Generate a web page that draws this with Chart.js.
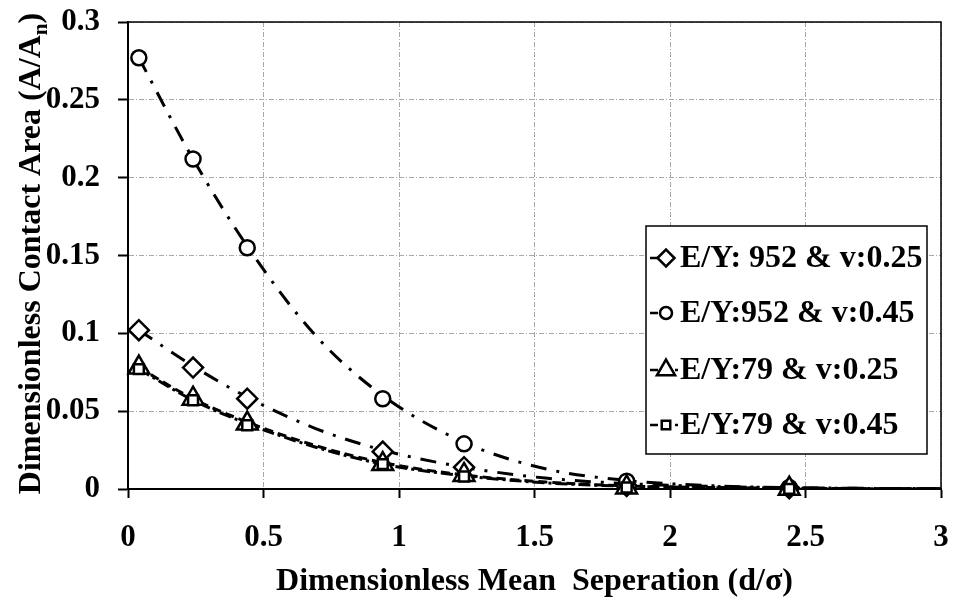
<!DOCTYPE html>
<html>
<head>
<meta charset="utf-8">
<script src="https://cdn.jsdelivr.net/npm/chart.js@4.4.1/dist/chart.umd.min.js"></script>
<style>
  html, body { margin: 0; padding: 0; background: #fff; }
  #wrap { width: 957px; height: 603px; }
</style>
</head>
<body>
<div id="wrap"><canvas id="contactChart" width="957" height="603"></canvas></div>
<script>
//========================
// Data
//========================
const sepX = [0.04, 0.24, 0.44, 0.94, 1.24, 1.84, 2.44];

const area952v025 = [0.102, 0.078, 0.058, 0.024, 0.014, 0.002, 0.0005];
const area952v045 = [0.277, 0.212, 0.155, 0.058, 0.029, 0.005, 0.001];
const area79v025  = [0.078, 0.058, 0.042, 0.016, 0.009, 0.001, 0.0002];
const area79v045  = [0.077, 0.057, 0.041, 0.016, 0.008, 0.001, 0.0001];

// trend curves
const trendX = [0.04, 0.24, 0.44, 0.69, 0.94, 1.24, 1.54, 1.84, 2.14, 2.44, 2.72, 3.0];
const trend952v025 = [0.102, 0.079, 0.059, 0.039, 0.025, 0.014, 0.007, 0.0035, 0.0017, 0.0008, 0.0004, 0.0002];
const trend952v045 = [0.277, 0.212, 0.156, 0.099, 0.060, 0.030, 0.013, 0.0055, 0.0022, 0.0009, 0.0004, 0.0002];
const trend79v025  = [0.078, 0.058, 0.043, 0.028, 0.017, 0.009, 0.0045, 0.002, 0.001, 0.0005, 0.0002, 0.0001];
const trend79v045  = [0.077, 0.057, 0.042, 0.027, 0.016, 0.0085, 0.004, 0.0018, 0.0009, 0.0004, 0.0002, 0.0001];

const seriesLabels = ['E/Y: 952 & v:0.25', 'E/Y:952 & v:0.45', 'E/Y:79 & v:0.25', 'E/Y:79 & v:0.45'];
const xTitle = 'Dimensionless Mean  Seperation (d/\u03c3)';
const yTitleMain = 'Dimensionless Contact Area (A/A';
const yTitleSub = 'n';

const serif = "'Liberation Serif', 'Times New Roman', Times, serif";

function toPts(xs, ys) {
  return xs.map((x, i) => ({ x: x, y: ys[i] }));
}

function tickText(value) {
  return String(Number(value.toFixed(2)));
}

//========================
// Styles per series
//========================
const markerStyles = [
  { pointStyle: 'rectRot',  radius: 10,  legendRadius: 8.5 },
  { pointStyle: 'circle',   radius: 7.5, legendRadius: 6 },
  { pointStyle: 'triangle', radius: 12,  legendRadius: 10.5 },
  { pointStyle: 'rect',     radius: 7,   legendRadius: 6 }
];
const trendDash = [[16, 10, 3, 10], [16, 10, 3, 10], [9, 5], [12, 4, 3, 4]];

function markerSet(label, ys, idx, order) {
  return {
    label: label,
    data: toPts(sepX, ys),
    showLine: false,
    pointStyle: markerStyles[idx].pointStyle,
    pointRadius: markerStyles[idx].radius,
    pointBackgroundColor: '#fff',
    pointBorderColor: '#000',
    pointBorderWidth: 2.5,
    clip: false,
    order: order
  };
}

function trendSet(ys, idx, order) {
  return {
    label: 'trend ' + seriesLabels[idx],
    data: toPts(trendX, ys),
    showLine: true,
    borderColor: '#000',
    borderWidth: 3,
    borderDash: trendDash[idx],
    borderCapStyle: 'butt',
    cubicInterpolationMode: 'monotone',
    pointRadius: 0,
    order: order
  };
}

//========================
// Plugins
//========================
const frameBox = {
  id: 'frameBox',
  beforeDatasetsDraw(chart) {
    const { ctx, chartArea: a } = chart;
    ctx.save();
    ctx.strokeStyle = '#000';
    ctx.lineWidth = 1.5;
    ctx.beginPath();
    ctx.moveTo(a.left, a.top);
    ctx.lineTo(a.right, a.top);
    ctx.lineTo(a.right, a.bottom);
    ctx.stroke();
    ctx.restore();
  }
};

const yTitleDraw = {
  id: 'yTitleDraw',
  afterDraw(chart) {
    const ctx = chart.ctx;
    const a = chart.chartArea;
    const mainFont = 'bold 32px ' + serif;
    const subFont = 'bold 21px ' + serif;
    ctx.save();
    ctx.fillStyle = '#000';
    ctx.font = mainFont;
    const w1 = ctx.measureText(yTitleMain).width;
    const w3 = ctx.measureText(')').width;
    ctx.font = subFont;
    const w2 = ctx.measureText(yTitleSub).width;
    const total = w1 + w2 + w3;
    ctx.translate(40, (a.top + a.bottom) / 2 - 2);
    ctx.rotate(-Math.PI / 2);
    ctx.textAlign = 'left';
    ctx.textBaseline = 'alphabetic';
    let u = -total / 2;
    ctx.font = mainFont;
    ctx.fillText(yTitleMain, u, 0);
    u += w1;
    ctx.font = subFont;
    ctx.fillText(yTitleSub, u, 7);
    u += w2;
    ctx.font = mainFont;
    ctx.fillText(')', u, 0);
    ctx.restore();
  }
};

function drawMarker(ctx, style, r, x, y) {
  if (Chart.helpers && Chart.helpers.drawPoint) {
    Chart.helpers.drawPoint(ctx, { pointStyle: style, radius: r, rotation: 0, borderWidth: 2.5 }, x, y);
  } else {
    ctx.beginPath();
    ctx.arc(x, y, r, 0, Math.PI * 2);
    ctx.fill();
    ctx.stroke();
  }
}

const boxLegend = {
  id: 'boxLegend',
  afterDraw(chart) {
    const ctx = chart.ctx;
    const box = { left: 646, top: 226, right: 927, bottom: 454 };
    const rows = [258, 313, 370, 425];
    ctx.save();
    ctx.fillStyle = '#fff';
    ctx.strokeStyle = '#000';
    ctx.lineWidth = 1.5;
    ctx.fillRect(box.left, box.top, box.right - box.left, box.bottom - box.top);
    ctx.strokeRect(box.left, box.top, box.right - box.left, box.bottom - box.top);

    seriesLabels.forEach((label, i) => {
      const y = rows[i];
      // short line stub
      ctx.setLineDash([]);
      ctx.lineWidth = 2.5;
      ctx.beginPath();
      ctx.moveTo(650, y);
      ctx.lineTo(658, y);
      ctx.stroke();
      if (i >= 2) {
        ctx.beginPath();
        ctx.moveTo(675, y);
        ctx.lineTo(678, y);
        ctx.stroke();
      }
      ctx.fillStyle = '#fff';
      ctx.strokeStyle = '#000';
      ctx.lineWidth = 2.5;
      drawMarker(ctx, markerStyles[i].pointStyle, markerStyles[i].legendRadius, 666, y);
      ctx.fillStyle = '#000';
      ctx.font = 'bold 32px ' + serif;
      ctx.textAlign = 'left';
      ctx.textBaseline = 'middle';
      ctx.fillText(label, 680, y + 1);
    });
    ctx.restore();
  }
};

//========================
// Chart
//========================
const ctx = document.getElementById('contactChart').getContext('2d');

new Chart(ctx, {
  type: 'scatter',
  data: {
    datasets: [
      trendSet(trend952v025, 0, 13),
      trendSet(trend952v045, 1, 12),
      trendSet(trend79v025, 2, 11),
      trendSet(trend79v045, 3, 10),
      markerSet(seriesLabels[0], area952v025, 0, 4),
      markerSet(seriesLabels[1], area952v045, 1, 3),
      markerSet(seriesLabels[2], area79v025, 2, 2),
      markerSet(seriesLabels[3], area79v045, 3, 1)
    ]
  },
  options: {
    responsive: false,
    animation: false,
    devicePixelRatio: 1,
    layout: { padding: { left: 0, right: 16, top: 22, bottom: 0 } },
    plugins: {
      legend: { display: false },
      tooltip: { enabled: false }
    },
    scales: {
      x: {
        type: 'linear',
        min: 0,
        max: 3,
        ticks: {
          stepSize: 0.5,
          color: '#000',
          padding: 21,
          callback: tickText,
          font: { family: serif, size: 31, weight: 'bold', lineHeight: 1.2 }
        },
        grid: {
          color: '#a8a8a8',
          lineWidth: 1,
          borderDash: [5, 2, 1, 2],
          tickLength: 9,
          tickColor: '#000',
          tickWidth: 2,
          tickBorderDash: []
        },
        border: { color: '#000', width: 2, dash: [5, 2, 1, 2] },
        title: {
          display: true,
          text: xTitle,
          color: '#000',
          padding: { top: 4, bottom: 2 },
          font: { family: serif, size: 32, weight: 'bold', lineHeight: 1.2 }
        },
        afterFit(scale) {
          scale.height = 114;
          scale.paddingLeft = 0;
          scale.paddingRight = 0;
        }
      },
      y: {
        type: 'linear',
        min: 0,
        max: 0.3,
        ticks: {
          stepSize: 0.05,
          color: '#000',
          padding: 18,
          callback: tickText,
          font: { family: serif, size: 31, weight: 'bold', lineHeight: 1.2 }
        },
        grid: {
          color: '#a8a8a8',
          lineWidth: 1,
          borderDash: [5, 2, 1, 2],
          tickLength: 10,
          tickColor: '#000',
          tickWidth: 2,
          tickBorderDash: []
        },
        border: { color: '#000', width: 2, dash: [5, 2, 1, 2] },
        afterFit(scale) {
          scale.width = 128;
          scale.paddingTop = 0;
          scale.paddingBottom = 0;
        }
      }
    }
  },
  plugins: [frameBox, yTitleDraw, boxLegend]
});
</script>
</body>
</html>
